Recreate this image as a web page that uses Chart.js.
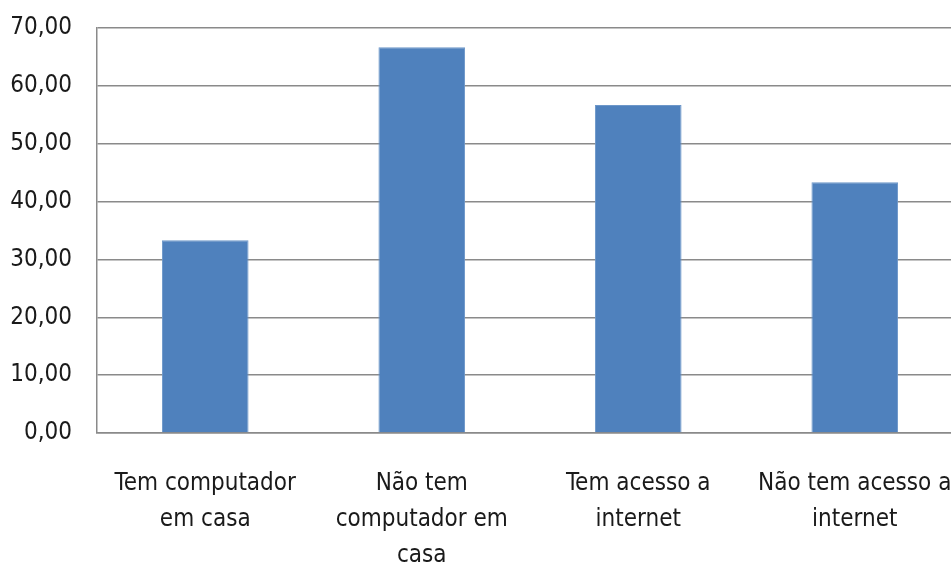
<!DOCTYPE html>
<html>
<head>
<meta charset="utf-8">
<script src="https://cdn.jsdelivr.net/npm/chart.js@4.4.1/dist/chart.umd.min.js"></script>
<style>
  html, body { margin: 0; padding: 0; background: #fff; overflow: hidden; }
</style>
</head>
<body>
<canvas id="myChart" width="980" height="568"></canvas>
<script>
  const categories = [
    ['Tem computador', 'em casa'],
    ['Não tem', 'computador em', 'casa'],
    ['Tem acesso a', 'internet'],
    ['Não tem acesso a', 'internet']
  ];
  const percentages = [33.33, 66.67, 56.67, 43.33];
  const yTicks = [0, 10, 20, 30, 40, 50, 60, 70];

  const font = { family: "'Liberation Sans Narrow', 'DejaVu Sans Condensed', sans-serif", size: 24 };
  const ctx = document.getElementById('myChart');

  new Chart(ctx, {
    type: 'bar',
    data: {
      labels: categories,
      datasets: [{
        data: percentages,
        backgroundColor: '#4F81BD',
        borderColor: '#6d97c9',
        borderWidth: 1,
        barPercentage: 1,
        categoryPercentage: 0.4
      }]
    },
    options: {
      responsive: false,
      animation: false,
      layout: { padding: { top: 28, right: 17, left: 0, bottom: 0 } },
      plugins: { legend: { display: false }, tooltip: { enabled: false } },
      scales: {
        x: {
          grid: { display: false, drawTicks: false },
          border: { display: true, color: '#8a8a8a', width: 1.5 },
          ticks: { color: '#1a1a1a', font: { ...font, lineHeight: 1.5 }, padding: 33, maxRotation: 0, autoSkip: false },
          afterFit: (s) => { s.height = 135; s.paddingLeft = 0; s.paddingRight = 0; }
        },
        y: {
          min: 0,
          max: 70,
          afterBuildTicks: (s) => { s.ticks = yTicks.map(v => ({ value: v })); },
          grid: { color: '#8a8a8a', lineWidth: 1.5, drawTicks: false },
          border: { display: true, color: '#8a8a8a', width: 1.5 },
          ticks: {
            color: '#1a1a1a',
            font: { ...font, lineHeight: 1.2 },
            padding: 25,
            callback: (v) => v.toFixed(2).replace('.', ',')
          },
          afterFit: (s) => { s.width = 97; s.paddingTop = 0; s.paddingBottom = 0; }
        }
      }
    }
  });
</script>
</body>
</html>
